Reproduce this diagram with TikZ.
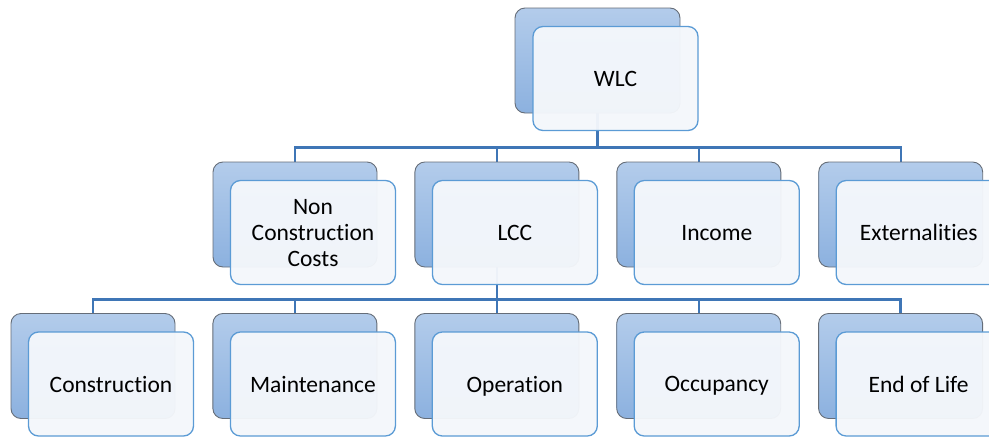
\documentclass[tikz,border=0pt]{standalone}
\usepackage{fontspec}
\setmainfont{Carlito}[RawFeature={-liga;-clig;-calt;-dlig}]
\usetikzlibrary{positioning,backgrounds,calc}
\definecolor{bktop}{HTML}{B3CCEB}
\definecolor{bkbot}{HTML}{8CB1DF}
\definecolor{bkline}{HTML}{656D78}
\definecolor{frline}{HTML}{5B9BD5}
\definecolor{frfill}{HTML}{F4F7FB}
\definecolor{conn}{HTML}{3F76B6}

\begin{document}
\begin{tikzpicture}[
  x=1pt,y=-1pt,
  font=\fontsize{23.5}{26}\selectfont,
  bk/.style={draw=bkline,line width=0.9pt,rounded corners=10pt,minimum width=164pt,minimum height=105pt,
    top color=bktop,bottom color=bkbot},
  fr/.style={draw=frline,line width=1.3pt,rounded corners=10pt,minimum width=165pt,minimum height=104pt,
    fill=frfill,fill opacity=0.96,text opacity=1,align=center,inner sep=2pt,text depth=0pt},
  ln/.style={draw=conn,line width=2.4pt},
  node distance=37pt
]
\useasboundingbox (0,0) rectangle (989,437);
% back boxes
\node[bk,minimum width=165pt] (wlcb) at (597.5,60.5) {};
\node[bk] (ncb) at (295,214.5) {};
\node[bk,right=of ncb] (lccb) {};
\node[bk,right=of lccb] (incb) {};
\node[bk,right=of incb] (extb) {};
\node[bk] (conb) at (93,366) {};
\node[bk,right=of conb] (mntb) {};
\node[bk,right=of mntb] (opb) {};
\node[bk,right=of opb] (occb) {};
\node[bk,right=of occb] (eolb) {};
% front boxes
\node[fr] (wlc) at ($(wlcb)+(18,18)$) {WLC};
\node[fr] (nc) at ($(ncb)+(18,18)$) {Non\\Construction\\Costs};
\node[fr] (lcc) at ($(lccb)+(18,18)$) {LCC};
\node[fr] (inc) at ($(incb)+(18,18)$) {Income};
\node[fr] (ext) at ($(extb)+(18,18)$) {Externalities};
\node[fr] (con) at ($(conb)+(18,18)$) {Construction};
\node[fr] (mnt) at ($(mntb)+(18,18)$) {Maintenance};
\node[fr] (op) at ($(opb)+(18,18)$) {Operation};
\node[fr] (occ) at ($(occb)+(18,18)$) {Occupancy};
\node[fr] (eol) at ($(eolb)+(18,18)$) {End of Life};
% connectors
\begin{scope}[on background layer]
\foreach \c in {ncb,lccb,incb,extb}
  \draw[ln] (wlcb.south) -- ++(0,34) -| (\c.north);
\foreach \c in {conb,mntb,opb,occb,eolb}
  \draw[ln] (lccb.south) -- ++(0,32) -| (\c.north);
\end{scope}
\end{tikzpicture}
\end{document}
